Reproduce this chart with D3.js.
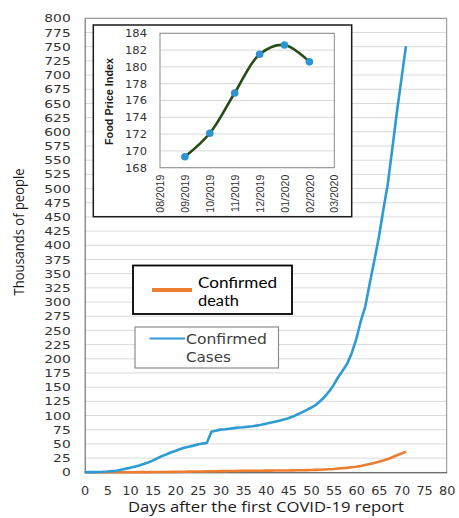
<!DOCTYPE html>
<html><head><meta charset="utf-8">
<script src="https://cdn.jsdelivr.net/npm/d3@7"></script>
<style>body{margin:0;background:#fff}svg{display:block}</style>
</head><body><svg id="c" width="459" height="518"></svg>
<script>
// ---- data (thousands of people) ----
const days = [0,1,2,3,4,5,6,7,8,9,10,11,12,13,14,15,16,17,18,19,20,21,22,23,24,25,26,27,28,29,30,31,32,33,34,35,36,37,38,39,40,41,42,43,44,45,46,47,48,49,50,51,52,53,54,55,56,57,58,59,60,61,62,63,64,65,66,67,68,69,70,71];
const confirmedCases = [0,0.28,0.31,0.58,0.85,1.32,2.01,2.80,4.59,6.07,7.82,9.83,11.95,14.56,17.39,20.63,24.55,28.28,31.48,34.89,37.56,40.55,43.10,45.17,46.99,49.05,50.58,51.86,71.43,73.33,75.20,75.75,76.77,77.79,78.81,79.33,80.24,81.11,82.29,83.65,85.40,87.14,88.95,90.87,93.09,95.32,98.19,101.93,105.59,109.58,113.70,118.32,125.26,132.76,142.54,153.52,167.52,179.11,191.13,209.84,234.07,266.07,292.14,332.93,372.76,414.18,462.68,509.16,571.68,634.84,693.22,750.89];
const confirmedDeaths = [0,0.01,0.01,0.02,0.03,0.04,0.06,0.08,0.11,0.13,0.17,0.21,0.26,0.31,0.36,0.43,0.49,0.57,0.64,0.72,0.81,0.91,1.02,1.12,1.37,1.38,1.53,1.67,1.78,1.87,2.01,2.13,2.25,2.35,2.46,2.62,2.70,2.76,2.80,2.86,2.92,2.98,3.04,3.11,3.20,3.29,3.38,3.49,3.58,3.81,4.01,4.29,4.61,4.96,5.39,5.74,6.61,7.43,7.81,8.78,9.84,11.18,12.78,14.51,16.23,18.44,20.83,23.34,26.49,30.11,33.11,36.41];
const yTicks = [0,25,50,75,100,125,150,175,200,225,250,275,300,325,350,375,400,425,450,475,500,525,550,575,600,625,650,675,700,725,750,775,800];
const xTicks = [0,5,10,15,20,25,30,35,40,45,50,55,60,65,70,75,80];
const seriesNames = ["Confirmed death","Confirmed Cases"];

// inset: food price index
const fpiMonths = ["08/2019","09/2019","10/2019","11/2019","12/2019","01/2020","02/2020","03/2020"];
const fpiDataMonths = ["09/2019","10/2019","11/2019","12/2019","01/2020","02/2020"];
const fpiValues = [169.3,172.1,176.9,181.5,182.6,180.6];
const fpiTicks = [168,170,172,174,176,178,180,182,184];

// ---- drawing ----
const svg = d3.select("#c");
svg.append("rect").attr("width",459).attr("height",518).attr("fill","#fff");

const L=84.7,R=446.7,T=18.3,B=472.3;
const x = d3.scaleLinear().domain([0,80]).range([L,R]);
const y = d3.scaleLinear().domain([0,800]).range([B,T]);

// gridlines
svg.append("g").selectAll("line").data(yTicks).join("line")
  .attr("x1",L).attr("x2",R).attr("y1",d=>y(d)).attr("y2",d=>y(d))
  .attr("stroke","#d9d9d9").attr("stroke-width",1);
// plot border
svg.append("line").attr("x1",L).attr("x2",R).attr("y1",T).attr("y2",T).attr("stroke","#8c8c8c");
svg.append("line").attr("x1",R).attr("x2",R).attr("y1",T).attr("y2",B).attr("stroke","#8c8c8c");

// axes
const yAxis = svg.append("g").attr("transform",`translate(${L},0)`)
  .call(d3.axisLeft(y).tickValues(yTicks).tickSize(0).tickPadding(14));
yAxis.select(".domain").attr("stroke","#595959");
yAxis.selectAll("text").attr("font-family","DejaVu Sans").attr("font-size",11.2).attr("fill","#333")
  .attr("textLength",d=>String(d).length*8.8).attr("lengthAdjust","spacingAndGlyphs");

const xAxis = svg.append("g").attr("transform",`translate(0,${B})`)
  .call(d3.axisBottom(x).tickValues(xTicks).tickSize(0));
xAxis.select(".domain").attr("stroke","#404040");
xAxis.selectAll("text").attr("font-family","DejaVu Sans").attr("font-size",11.4).attr("fill","#333")
  .attr("dy",null).attr("y",22.3)
  .attr("textLength",d=>String(d).length*8.2).attr("lengthAdjust","spacingAndGlyphs");

// titles
svg.append("text").attr("x",266).attr("y",512).attr("text-anchor","middle")
  .attr("font-family","Open Sans").attr("font-size",14.5).attr("fill","#1a1a1a")
  .attr("textLength",276).attr("lengthAdjust","spacingAndGlyphs")
  .text("Days after the first COVID-19 report");
svg.append("text").attr("transform","translate(23.5,232) rotate(-90)").attr("text-anchor","middle")
  .attr("font-family","Open Sans").attr("font-size",14.5).attr("fill","#1a1a1a")
  .attr("textLength",127).attr("lengthAdjust","spacingAndGlyphs")
  .text("Thousands of people");

// series lines
const line = vals => d3.line().x((d,i)=>x(days[i])).y(d=>y(d))(vals);
svg.append("path").attr("d",line(confirmedDeaths)).attr("fill","none")
  .attr("stroke","#ed7d31").attr("stroke-width",2.6).attr("stroke-linejoin","round");
svg.append("path").attr("d",line(confirmedCases)).attr("fill","none")
  .attr("stroke","#2e9bd3").attr("stroke-width",2.6).attr("stroke-linejoin","round");

// legends
const lg1 = svg.append("g");
lg1.append("rect").attr("x",133).attr("y",265.5).attr("width",159).attr("height",48.5)
  .attr("fill","#fff").attr("stroke","#000").attr("stroke-width",1.8);
lg1.append("line").attr("x1",152).attr("x2",192).attr("y1",290).attr("y2",290)
  .attr("stroke","#ed7d31").attr("stroke-width",4);
lg1.append("text").attr("x",198).attr("y",288).attr("font-family","Lato").attr("font-size",14.5).attr("fill","#000")
  .attr("textLength",79).attr("lengthAdjust","spacingAndGlyphs")
  .text(seriesNames[0].split(" ")[0]);
lg1.append("text").attr("x",198).attr("y",305.5).attr("font-family","Lato").attr("font-size",14.5).attr("fill","#000")
  .attr("textLength",41).attr("lengthAdjust","spacingAndGlyphs")
  .text(seriesNames[0].split(" ")[1]);

const lg2 = svg.append("g");
lg2.append("rect").attr("x",135).attr("y",327).attr("width",143.5).attr("height",41)
  .attr("fill","#fff").attr("stroke","#8c8c8c").attr("stroke-width",1.2);
lg2.append("line").attr("x1",149.5).attr("x2",185).attr("y1",338.5).attr("y2",338.5)
  .attr("stroke","#2e9bd3").attr("stroke-width",2);
lg2.append("text").attr("x",186).attr("y",343.5).attr("font-family","DejaVu Sans").attr("font-size",14).attr("fill","#404040")
  .attr("textLength",81).attr("lengthAdjust","spacingAndGlyphs")
  .text(seriesNames[1].split(" ")[0]);
lg2.append("text").attr("x",186).attr("y",362).attr("font-family","DejaVu Sans").attr("font-size",14).attr("fill","#404040")
  .attr("textLength",45).attr("lengthAdjust","spacingAndGlyphs")
  .text(seriesNames[1].split(" ")[1]);

// ---- inset ----
const ins = svg.append("g");
ins.append("rect").attr("x",93.3).attr("y",25).attr("width",258.4).attr("height",191.7)
  .attr("fill","#fff").attr("stroke","#1a1a1a").attr("stroke-width",1.5);
const iL=160,iR=334.3,iT=33.3,iB=167.7;
const ix = d3.scalePoint().domain(fpiMonths).range([iL,iR]);
const iy = d3.scaleLinear().domain([168,184]).range([iB,iT]);
ins.append("g").selectAll("line").data(fpiTicks).join("line")
  .attr("x1",iL).attr("x2",iR).attr("y1",d=>iy(d)).attr("y2",d=>iy(d))
  .attr("stroke","#d9d9d9");
ins.append("rect").attr("x",iL).attr("y",iT).attr("width",iR-iL).attr("height",iB-iT)
  .attr("fill","none").attr("stroke","#8c8c8c").attr("stroke-width",1);
const iyAxis = ins.append("g").attr("transform",`translate(${iL},0)`)
  .call(d3.axisLeft(iy).tickValues(fpiTicks).tickSize(0).tickPadding(13));
iyAxis.select(".domain").remove();
iyAxis.selectAll("text").attr("font-family","DejaVu Sans").attr("font-size",10.5).attr("fill","#333")
  .attr("textLength",22).attr("lengthAdjust","spacingAndGlyphs");
const ixAxis = ins.append("g").attr("transform",`translate(0,${iB})`)
  .call(d3.axisBottom(ix).tickSize(0));
ixAxis.select(".domain").remove();
ixAxis.selectAll("text").attr("font-family","Liberation Sans").attr("font-size",10.5).attr("fill","#333")
  .attr("transform","rotate(-90)").attr("text-anchor","end").attr("x",-7).attr("y",0).attr("dy","0.35em");
ins.append("text").attr("transform","translate(113,101.5) rotate(-90)").attr("text-anchor","middle")
  .attr("font-family","Liberation Sans").attr("font-weight","bold").attr("font-size",11).attr("fill","#1a1a1a")
  .attr("textLength",87).attr("lengthAdjust","spacingAndGlyphs")
  .text("Food Price Index");
ins.append("path")
  .attr("d", d3.line().curve(d3.curveCatmullRom.alpha(0.5)).x((d,i)=>ix(fpiDataMonths[i])).y(d=>iy(d))(fpiValues))
  .attr("fill","none").attr("stroke","#264d17").attr("stroke-width",2.6);
ins.append("g").selectAll("circle").data(fpiValues).join("circle")
  .attr("cx",(d,i)=>ix(fpiDataMonths[i])).attr("cy",d=>iy(d)).attr("r",3.8).attr("fill","#2e93d1");
</script></body></html>
